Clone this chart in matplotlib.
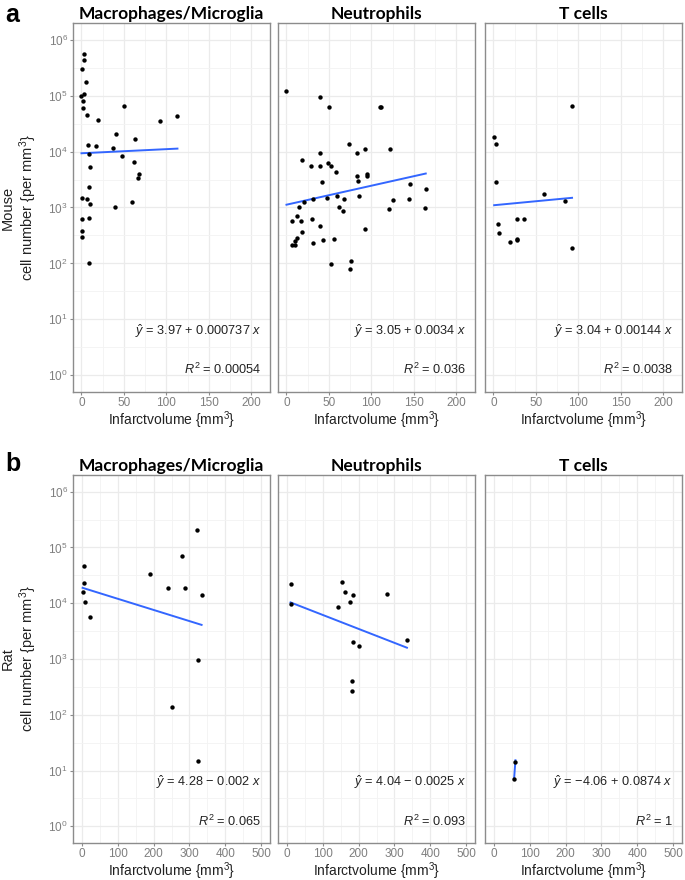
import numpy as np
import matplotlib
matplotlib.use("Agg")
import matplotlib.pyplot as plt
from matplotlib.ticker import FixedLocator, NullFormatter, LogFormatterSciNotation

plt.rcParams["font.family"] = ["Liberation Sans", "DejaVu Sans"]
plt.rcParams["mathtext.fontset"] = "custom"
plt.rcParams["mathtext.rm"] = "Liberation Sans"
plt.rcParams["mathtext.it"] = "Liberation Sans:italic"

cell_types = ["Macrophages/Microglia", "Neutrophils", "T cells"]

# mouse (panel a)
mouse_mac_x = [2.8, 2.4, 0.4, 5.1, 2.8, 0.0, 2, 2, 6.3, 18.9, 50, 93, 113, 40.6, 7.5, 17, 37, 63,
               8.3, 47.7, 9.5, 62, 67.5, 66.7, 0.5, 8.7, 5.9, 9.9, 39.8, 59, 0.3, 8.3, 0.3, 0.3, 8.3]
mouse_mac_y = [550000, 440000, 295000, 178000, 107000, 98000, 79000, 60000, 46000, 37000, 66000,
               35000, 44000, 21000, 13000, 12600, 11700, 17000, 8900, 8500, 5200, 6500, 3900, 3400,
               1450, 2300, 1400, 1170, 1000, 1230, 620, 650, 380, 300, 102]

mouse_neu_x = [0, 39.4, 50.4, 110, 111, 74, 39.4, 83, 93, 122, 18, 29, 39, 48.4, 53, 58, 83, 84, 95,
               95, 42, 146, 164, 21, 31, 48, 59.4, 68, 85, 126, 144.5, 15, 62, 67, 120.5, 163, 6,
               12.6, 17, 30, 18, 40, 92.5, 12, 10, 6, 10, 31, 42.5, 55.5, 52, 76, 75]
mouse_neu_y = [123000, 93000, 62000, 62000, 63000, 13800, 9500, 9500, 11000, 11000, 7200, 5600,
               5600, 6200, 5500, 4400, 3700, 3000, 4000, 3600, 2800, 2600, 2100, 1260, 1400, 1500,
               1600, 1400, 1600, 1350, 1400, 1000, 1020, 850, 930, 980, 580, 710, 580, 620, 370,
               460, 410, 280, 250, 215, 210, 230, 265, 275, 96, 112, 81]

mouse_t_x = [92.5, 0.8, 2.8, 2.4, 59.7, 84, 27.7, 35.6, 5, 6.3, 19.8, 27.3, 27.7, 92]
mouse_t_y = [65000, 18600, 13800, 2900, 1740, 1290, 620, 620, 500, 350, 245, 275, 257, 190]

# rat (panel b)
rat_mac_x = [4.6, 4.6, 1.8, 9.2, 22, 190, 240, 278, 289, 322, 334, 324, 251, 324]
rat_mac_y = [47000, 23000, 16000, 10500, 5600, 33000, 19000, 71000, 18600, 204000, 13800, 950, 135, 15]

rat_neu_x = [10, 10, 154, 161, 183, 280, 177, 142, 183, 201, 335, 182, 182]
rat_neu_y = [22000, 9800, 24000, 16200, 14100, 14500, 10500, 8500, 2000, 1740, 2200, 400, 270]

rat_t_x = [56, 60]
rat_t_y = [7.1, 14.5]

# printed fits: log10(y) = intercept + slope * x
mouse_fit = [(3.97, 0.000737, "0.00054"), (3.05, 0.0034, "0.036"), (3.04, 0.00144, "0.0038")]
rat_fit = [(4.28, -0.002, "0.065"), (4.04, -0.0025, "0.093"), (-4.06, 0.0874, "1")]
mouse_eq = ["3.97 + 0.000737", "3.05 + 0.0034", "3.04 + 0.00144"]
rat_eq = ["4.28 \u2212 0.002", "4.04 \u2212 0.0025", "\u22124.06 + 0.0874"]

rows = [
    dict(xs=[mouse_mac_x, mouse_neu_x, mouse_t_x], ys=[mouse_mac_y, mouse_neu_y, mouse_t_y],
         fit=mouse_fit, eq=mouse_eq, species="Mouse", letter="a", letter_y=1 - 3 / 880,
         xlim=(-10, 222), xticks=[0, 50, 100, 150, 200], xminor=[25, 75, 125, 175],
         bottom=1 - 392 / 880, top=1 - 23 / 880),
    dict(xs=[rat_mac_x, rat_neu_x, rat_t_x], ys=[rat_mac_y, rat_neu_y, rat_t_y],
         fit=rat_fit, eq=rat_eq, species="Rat", letter="b", letter_y=1 - 452 / 880,
         xlim=(-25, 525), xticks=[0, 100, 200, 300, 400, 500], xminor=[50, 150, 250, 350, 450],
         bottom=1 - 843 / 880, top=1 - 475 / 880),
]

lefts = [73 / 685, 278 / 685, 485 / 685]
width = 197 / 685

fig = plt.figure(figsize=(6.85, 8.8), dpi=100)

for row in rows:
    h = row["top"] - row["bottom"]
    for j in range(3):
        ax = fig.add_axes([lefts[j], row["bottom"], width, h])
        x = np.array(row["xs"][j], dtype=float)
        y = np.array(row["ys"][j], dtype=float)
        b0, b1, r2 = row["fit"][j]

        ax.set_yscale("log")
        ax.set_ylim(10 ** -0.3, 10 ** 6.3)
        ax.set_xlim(*row["xlim"])
        ax.yaxis.set_major_locator(FixedLocator(10.0 ** np.arange(0, 7)))
        ax.yaxis.set_minor_locator(FixedLocator(10.0 ** np.arange(0.5, 6.5, 1)))
        ax.yaxis.set_minor_formatter(NullFormatter())
        ax.xaxis.set_major_locator(FixedLocator(row["xticks"]))
        ax.xaxis.set_minor_locator(FixedLocator(row["xminor"]))
        ax.grid(which="major", color="#ebebeb", linewidth=0.9)
        ax.grid(which="minor", color="#f3f3f3", linewidth=0.6)
        ax.set_axisbelow(True)
        for s in ax.spines.values():
            s.set_color("#8c8c8c")
            s.set_linewidth(1.0)
        ax.tick_params(which="major", length=2.5, color="#8c8c8c", labelsize=8.5,
                       labelcolor="#7f7f7f", pad=1.2)
        ax.tick_params(which="minor", length=0)
        if j == 0:
            ax.yaxis.set_major_formatter(LogFormatterSciNotation())
        else:
            ax.tick_params(axis="y", which="both", left=False, labelleft=False)

        ax.scatter(x, y, s=10, color="black", zorder=3, linewidths=0)
        xx = np.array([x.min(), x.max()])
        ax.plot(xx, 10 ** (b0 + b1 * xx), color="#3366FF", linewidth=1.4, zorder=2)

        ax.text(0.955, 0.165, r"$\hat{y}$ = " + row["eq"][j] + r" $x$", transform=ax.transAxes,
                ha="right", va="center", fontsize=9.2, color="#222222")
        ax.text(0.955, 0.06, r"$R^2$ = " + r2, transform=ax.transAxes,
                ha="right", va="center", fontsize=9.2, color="#222222")

        ax.set_xlabel("Infarctvolume {mm$^3$}", fontsize=10, labelpad=0, color="#222222")
        ax.set_title(cell_types[j], fontsize=12.5, fontweight="bold", family=["Lato", "DejaVu Sans"],
                     pad=3)

    fig.text(0.029, (row["top"] + row["bottom"]) / 2,
             row["species"] + "\ncell number {per mm$^3$}", rotation=90, ha="center", va="center",
             fontsize=10.5, multialignment="center", color="#222222")
    fig.text(0.008, row["letter_y"], row["letter"], fontsize=18, fontweight="bold",
             ha="left", va="top")

fig.savefig("out.png", dpi=100)
